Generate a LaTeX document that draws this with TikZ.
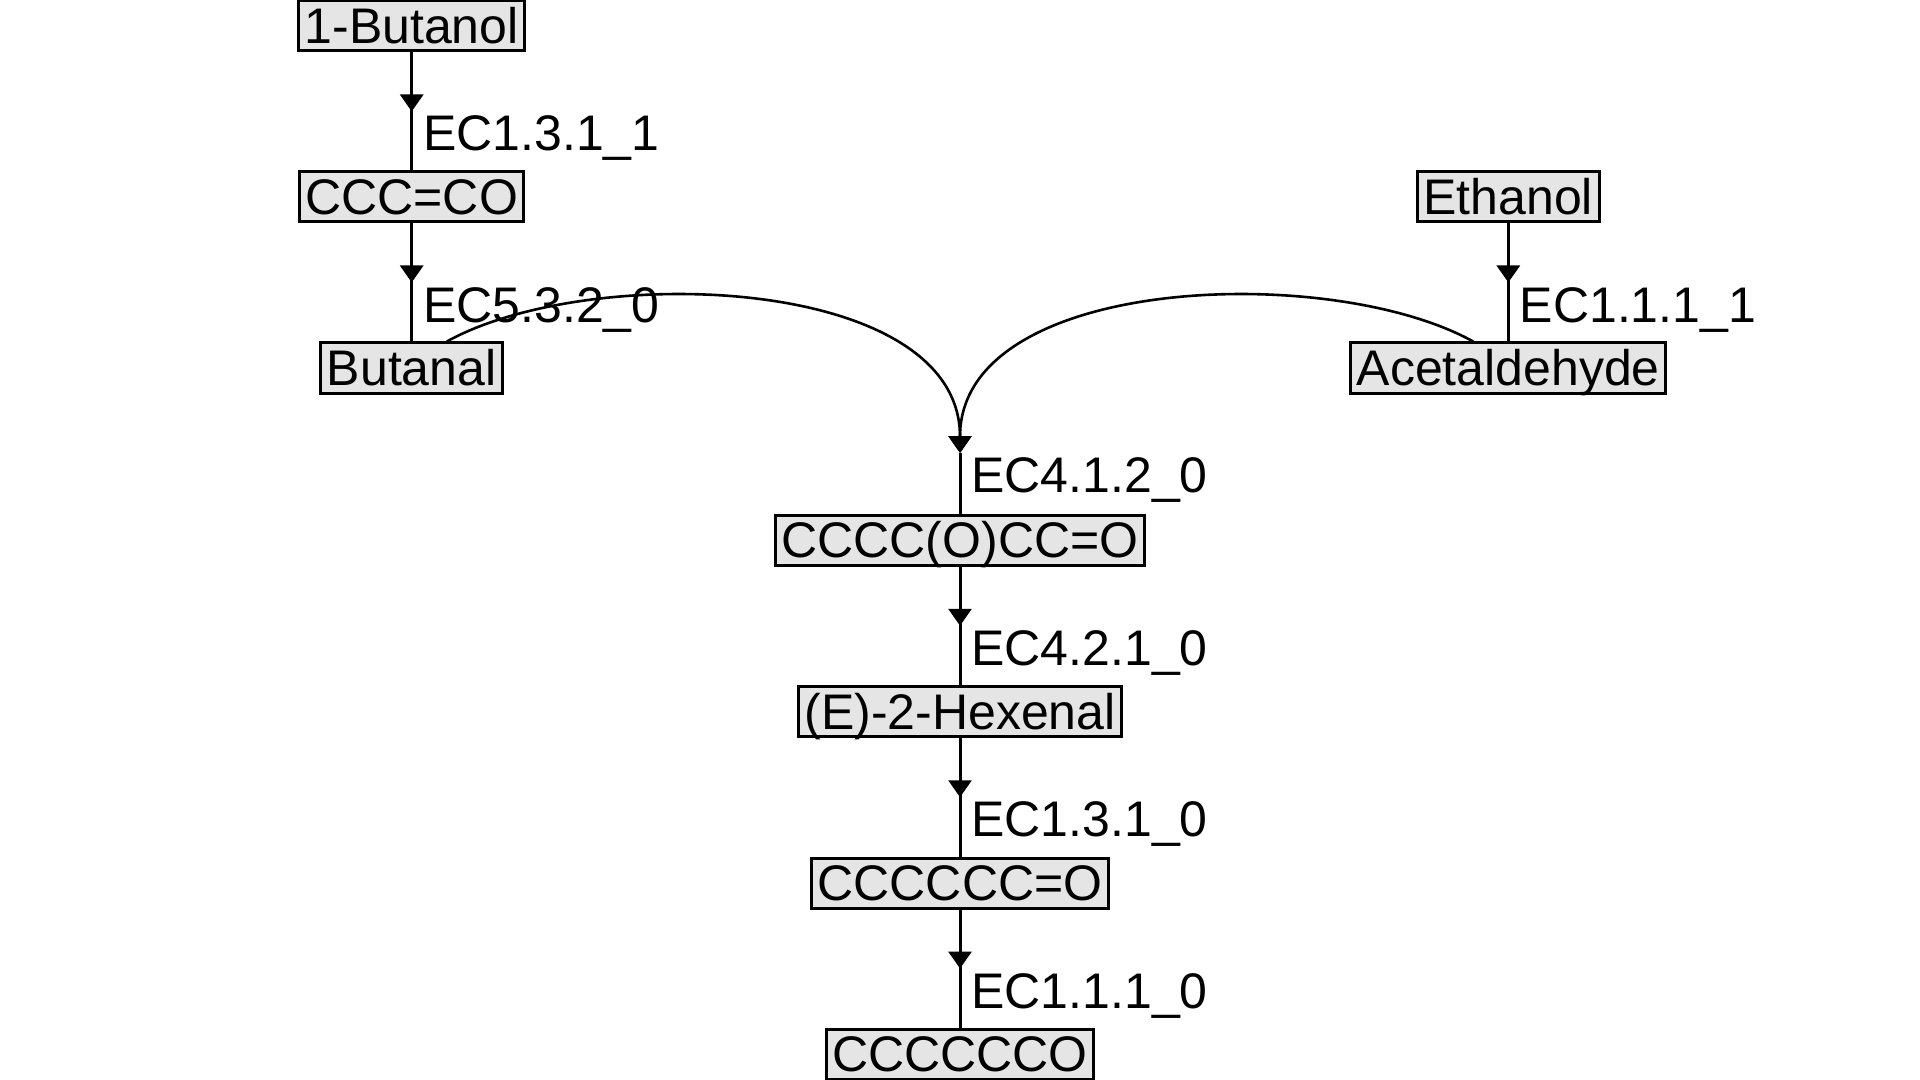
\documentclass[tikz,border=0pt]{standalone}
\usepackage{fontspec}
\setmainfont{Liberation Sans}
\usetikzlibrary{arrows.meta, decorations.markings}

\tikzset{
  compound/.style={draw, line width=1.5pt, fill=black!10, minimum height=25pt,
    inner ysep=0pt, inner xsep=3pt, text height=17.8pt, text depth=0pt,
    font=\fontsize{25}{30}\selectfont},
  reaction/.style={line width=1.5pt, postaction={decorate},
    decoration={markings, mark=at position 0.5 with {\arrow{Triangle[length=8.5pt, width=11.5pt]}}}},
  enzyme/.style={anchor=north west, inner sep=0pt, xshift=5pt, yshift=-1.2pt,
    text height=17.8pt, text depth=0pt, font=\fontsize{25}{30}\selectfont},
}

\begin{document}
\begin{tikzpicture}[x=0.5pt, y=-0.5pt]
  \useasboundingbox (0,0) rectangle (1920,1080);
  % compounds
  \node[compound] (butanol) at (411.7, 26) {1-Butanol};
  \node[compound] (propenol) at (411.7, 197) {CCC=CO};
  \node[compound] (butanal) at (411.7, 368) {Butanal};
  \node[compound] (ethanol) at (1508.3, 197) {Ethanol};
  \node[compound] (acetald) at (1508.3, 368) {Acetaldehyde};
  \node[compound] (hydroxy) at (960, 540) {CCCC(O)CC=O};
  \node[compound] (hexenal) at (960, 711.5) {(E)-2-Hexenal};
  \node[compound] (hexanal) at (960, 883) {CCCCCC=O};
  \node[compound] (hexanol) at (960, 1054) {CCCCCCO};
  \coordinate (aldol) at (960, 453);
  % reactions
  \draw[reaction] (butanol) -- node[enzyme] {EC1.3.1\_1} (propenol);
  \draw[reaction] (propenol) -- node[enzyme] {EC5.3.2\_0} (butanal);
  \draw[reaction] (ethanol) -- node[enzyme] {EC1.1.1\_1} (acetald);
  \begin{scope}[line width=1.3pt, -{Triangle[length=8.5pt, width=11.5pt]}]
    \draw (butanal.37) .. controls (590, 262) and (960, 275) .. (aldol);
    \draw (acetald.143) .. controls (1330, 262) and (960, 275) .. (aldol);
  \end{scope}
  \draw[line width=1.5pt] (aldol) -- node[enzyme, pos=0] {EC4.1.2\_0} (hydroxy);
  \draw[reaction] (hydroxy) -- node[enzyme] {EC4.2.1\_0} (hexenal);
  \draw[reaction] (hexenal) -- node[enzyme] {EC1.3.1\_0} (hexanal);
  \draw[reaction] (hexanal) -- node[enzyme] {EC1.1.1\_0} (hexanol);
\end{tikzpicture}
\end{document}
